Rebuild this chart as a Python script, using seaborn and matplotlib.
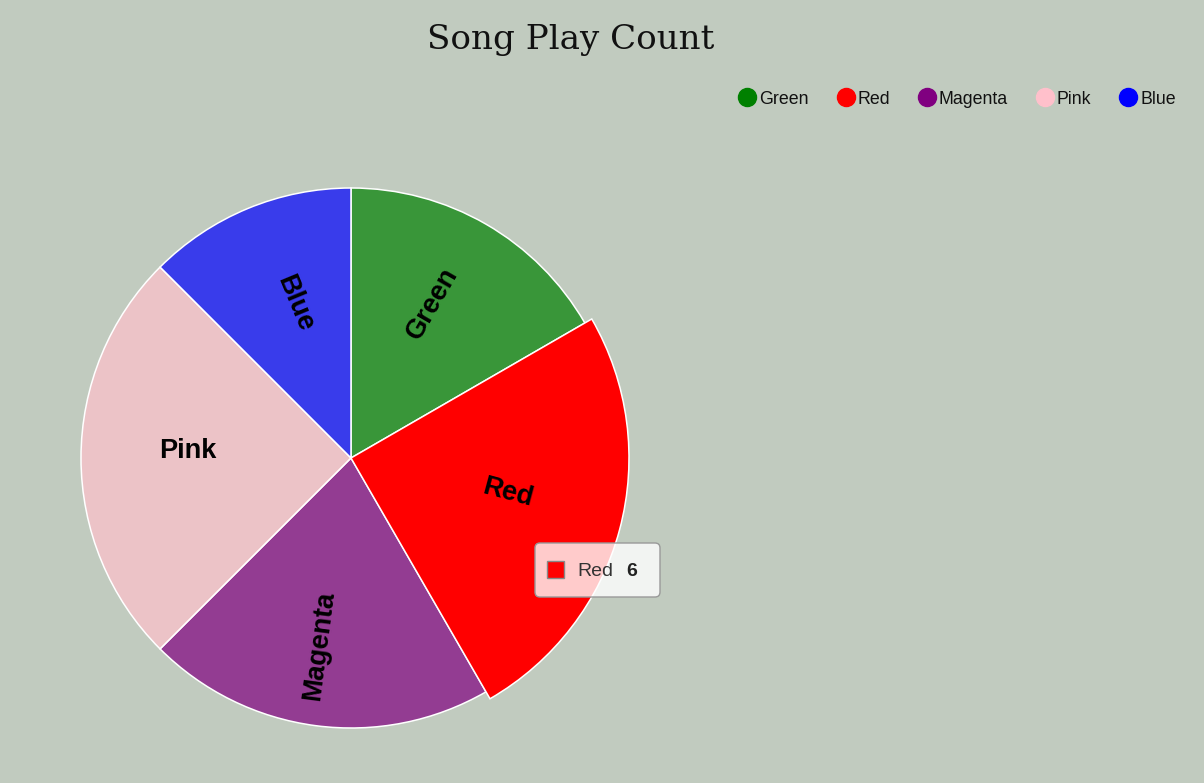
import numpy as np
import matplotlib
matplotlib.use('Agg')
import matplotlib.pyplot as plt
import seaborn as sns
from matplotlib.lines import Line2D
from matplotlib.patches import FancyBboxPatch, Rectangle
from matplotlib.colors import to_rgba

# ---- data ----
categories = ['Green', 'Red', 'Magenta', 'Pink', 'Blue']
values = [4, 6, 5, 6, 3]
colors = ['#008000', '#FF0000', '#800080', '#FFC0CB', '#0000FF']
title = 'Song Play Count'
hovered = 'Red'

BG = '#C1CBBF'
W, H = 1204, 783

sns.set_theme(style='white')
plt.rcParams['font.family'] = ['Liberation Sans', 'DejaVu Sans']

fig = plt.figure(figsize=(W / 100, H / 100), dpi=100, facecolor=BG)
ax = fig.add_axes([0, 0, 1, 1])
ax.set_facecolor(BG)

cx, cy, R = 351, H - 458, 270
face = [to_rgba(c, 1.0 if cat == hovered else 0.7) for c, cat in zip(colors, categories)]
wedges, texts = ax.pie(values, colors=face, labels=categories, startangle=90,
                       counterclock=False, center=(cx, cy), radius=R,
                       labeldistance=0.5, rotatelabels=True, frame=True,
                       wedgeprops=dict(edgecolor='white', linewidth=1.1),
                       textprops=dict(fontsize=19.5, fontweight='bold', color='black'))
for w, cat in zip(wedges, categories):
    if cat == hovered:
        w.set_radius(R + 8)
        w.set_zorder(3)
for t in texts:
    x, y = t.get_position()
    ang = np.degrees(np.arctan2(y - cy, x - cx))
    if np.cos(np.radians(ang)) >= 0:
        t.set_rotation(ang)
        t.set_ha('left')
    else:
        t.set_rotation(ang + 180)
        t.set_ha('right')
    t.set_va('baseline')
    t.set_rotation_mode('anchor')
    t.set_zorder(4)

ax.set_xlim(0, W)
ax.set_ylim(0, H)
ax.set_aspect('auto')
ax.set_axis_off()

ax.text(571, H - 40, title, ha='center', va='center', fontsize=24.6,
        family='DejaVu Serif', color='#111111')

handles = [Line2D([], [], marker='o', linestyle='none', markersize=13,
                  markerfacecolor=c, markeredgecolor=c) for c in colors]
leg = fig.legend(handles, categories, loc='center right', bbox_to_anchor=(1176 / W, 1 - 99 / H),
                 ncol=len(categories), frameon=False, fontsize=12.8, handlelength=0.9,
                 handletextpad=0.22, columnspacing=1.63, borderpad=0, borderaxespad=0)
for t in leg.get_texts():
    t.set_color('#111111')

# tooltip for hovered slice
hv = values[categories.index(hovered)]
hc = colors[categories.index(hovered)]
box = FancyBboxPatch((535, H - 597), 125, 54, boxstyle='round,pad=0,rounding_size=5',
                     facecolor=(1, 1, 1, 0.8), edgecolor='#999999', linewidth=1, zorder=5)
ax.add_patch(box)
ax.add_patch(Rectangle((547, H - 578), 17, 17, facecolor=hc, edgecolor='#888888',
                       linewidth=1, zorder=6))
ax.text(577, H - 572, hovered, ha='left', va='center', fontsize=14, color='#333333', zorder=6)
ax.text(626, H - 572, str(hv), ha='left', va='center', fontsize=14, fontweight='bold',
        color='#222222', zorder=6)

fig.savefig('out.png', dpi=100, facecolor=BG)
